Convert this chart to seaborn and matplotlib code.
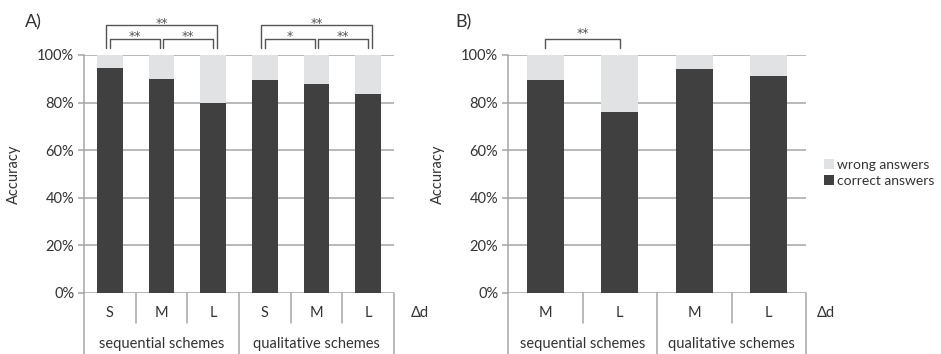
import matplotlib
matplotlib.use("Agg")
import matplotlib.pyplot as plt
import matplotlib.transforms as mtransforms
import seaborn as sns
import pandas as pd

sns.set_theme(style="white")
plt.rcParams["font.family"] = ["Lato", "DejaVu Sans"]

# Panel A: accuracy by colour distance (Δd) for both scheme types
a_schemes = ["sequential schemes"] * 3 + ["qualitative schemes"] * 3
a_delta = ["S", "M", "L", "S", "M", "L"]
a_correct = [94.5, 90.0, 80.0, 89.5, 88.0, 83.5]

# Panel B: accuracy for medium and large Δd only
b_schemes = ["sequential schemes"] * 2 + ["qualitative schemes"] * 2
b_delta = ["M", "L", "M", "L"]
b_correct = [89.5, 76.0, 94.0, 91.0]

# Significance brackets: (first bar, last bar, level, stars)
a_sig = [(0, 2, "outer", "**"), (0, 1, "left", "**"), (1, 2, "right", "**"),
         (3, 5, "outer", "**"), (3, 4, "left", "*"), (4, 5, "right", "**")]
b_sig = [(0, 1, "single", "**")]

DARK = "#404040"
LIGHT = "#e1e2e4"
GRID = "#a6a6a6"
TEXT = "#333333"
BRACKET = "#555555"
FS = 10.5

fig = plt.figure(figsize=(9.41, 3.54), dpi=100)
ax_a = fig.add_axes([84 / 941, 61 / 354, 310 / 941, 238 / 354])
ax_b = fig.add_axes([508 / 941, 61 / 354, 298 / 941, 238 / 354])


def draw_panel(ax, schemes, delta, correct, sig, delta_x):
    keys = [f"{s}|{d}|{i}" for i, (s, d) in enumerate(zip(schemes, delta))]
    df = pd.DataFrame({"key": keys, "total": [100.0] * len(keys),
                       "correct": correct})
    sns.barplot(data=df, x="key", y="total", color=LIGHT, width=0.5,
                saturation=1, ax=ax, order=keys, label="wrong answers",
                linewidth=0)
    sns.barplot(data=df, x="key", y="correct", color=DARK, width=0.5,
                saturation=1, ax=ax, order=keys, label="correct answers",
                linewidth=0)
    n = len(keys)
    ax.set_xlim(-0.5, n - 0.5)
    ax.set_ylim(0, 100)
    ax.set_yticks([0, 20, 40, 60, 80, 100])
    ax.set_yticklabels([f"{v}%" for v in range(0, 101, 20)], fontsize=FS,
                       color=TEXT)
    ax.yaxis.grid(True, color=GRID, linewidth=1.1)
    ax.set_axisbelow(True)
    ax.tick_params(axis="y", left=True, length=4, width=1.1, color=GRID,
                   pad=3)
    ax.set_xticks([])
    ax.set_xlabel("")
    ax.set_ylabel("Accuracy", fontsize=FS, color=TEXT, labelpad=12)
    for side in ["top", "right", "bottom"]:
        ax.spines[side].set_visible(False)
    ax.spines["left"].set_color(GRID)
    ax.spines["left"].set_linewidth(1.1)
    if ax.get_legend() is not None:
        ax.get_legend().remove()

    tr = mtransforms.blended_transform_factory(ax.transData, ax.transAxes)
    # category table below the axis
    groups = []
    for i, s in enumerate(schemes):
        if not groups or groups[-1][0] != s:
            groups.append([s, i, i])
        else:
            groups[-1][2] = i
    group_edges = {g[1] - 0.5 for g in groups} | {g[2] + 0.5 for g in groups}
    for e in range(n + 1):
        x = e - 0.5
        y0 = -0.257 if x in group_edges else -0.126
        ax.plot([x, x], [0, y0], transform=tr, color=GRID, lw=1.1,
                clip_on=False)
    for i, d in enumerate(delta):
        ax.text(i, -0.084, d, transform=tr, ha="center", va="center",
                fontsize=FS, color=TEXT)
    for s, i0, i1 in groups:
        ax.text((i0 + i1) / 2, -0.215, s, transform=tr, ha="center",
                va="center", fontsize=FS, color=TEXT)
    ax.text(delta_x, -0.084, "Δd", transform=ax.transAxes, ha="left",
            va="center", fontsize=FS, color=TEXT)

    # significance brackets
    for i0, i1, level, stars in sig:
        if level == "outer":
            xa, xb, top, sy = i0 - 0.07, i1 + 0.07, 1.124, 1.116
        elif level == "left":
            xa, xb, top, sy = i0, i1 - 0.03, 1.067, 1.061
        elif level == "right":
            xa, xb, top, sy = i0 + 0.03, i1, 1.067, 1.061
        else:
            xa, xb, top, sy = i0, i1, 1.067, 1.074
        ax.plot([xa, xa, xb, xb], [1.03, top, top, 1.03], transform=tr,
                color=BRACKET, lw=1.0, clip_on=False)
        ax.text((xa + xb) / 2, sy, stars, transform=tr, ha="center",
                va="baseline", fontsize=9, color=BRACKET,
                family="DejaVu Sans")


draw_panel(ax_a, a_schemes, a_delta, a_correct, a_sig, 1.055)
draw_panel(ax_b, b_schemes, b_delta, b_correct, b_sig, 1.035)

fig.text(25 / 941, 1 - 22 / 354, "A)", fontsize=13, color=TEXT,
         ha="left", va="center")
fig.text(455 / 941, 1 - 22 / 354, "B)", fontsize=13, color=TEXT,
         ha="left", va="center")

# legend on the right of panel B
handles, labels = ax_b.get_legend_handles_labels()
order = [labels.index("wrong answers"), labels.index("correct answers")]
fig.legend([handles[k] for k in order], [labels[k] for k in order],
           loc="center left", bbox_to_anchor=(824 / 941, 1 - 173 / 354),
           frameon=False, fontsize=10, handlelength=0.7, handleheight=0.7,
           handletextpad=0.25, labelspacing=0.3, labelcolor=TEXT,
           borderpad=0, borderaxespad=0)

fig.savefig("out.png", dpi=100)
